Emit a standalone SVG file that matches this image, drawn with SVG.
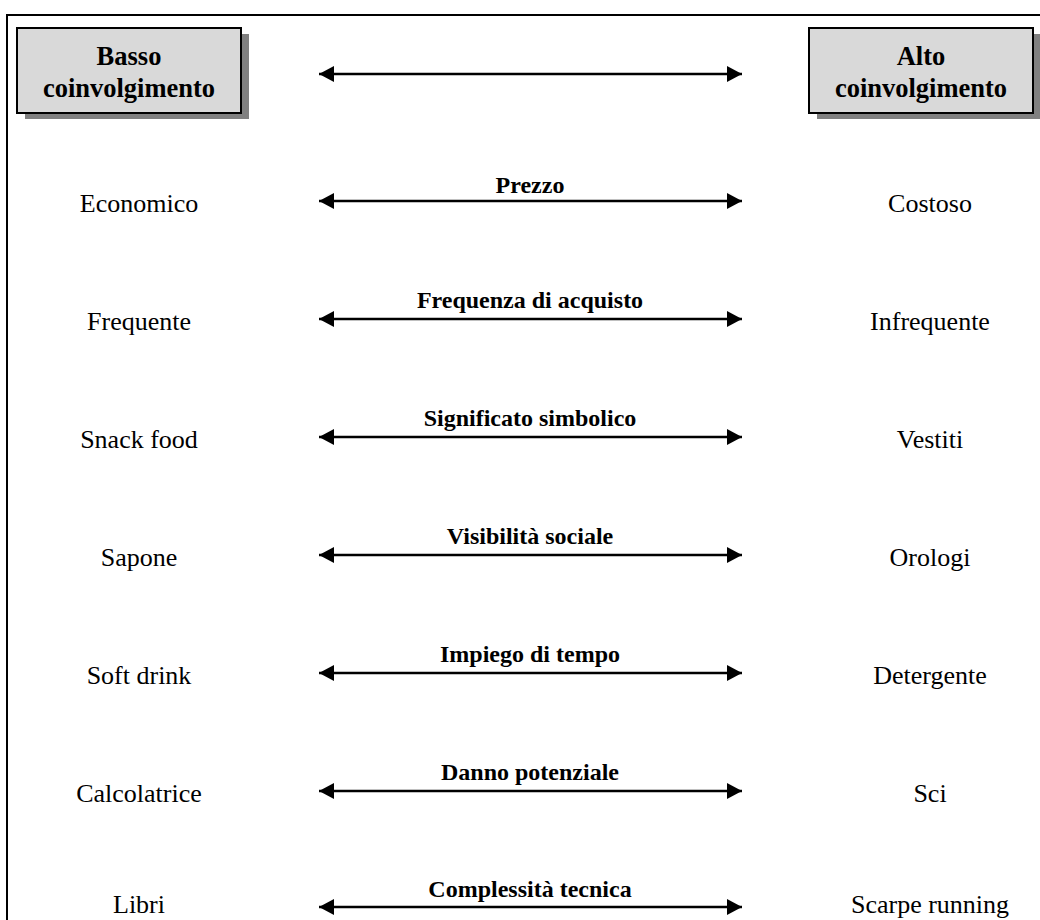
<svg xmlns="http://www.w3.org/2000/svg" width="1040" height="920" viewBox="0 0 1040 920">
  <style>
    .frame { fill: none; stroke: #000; stroke-width: 2; }
    .shadow { fill: #808080; }
    .box { fill: #d9d9d9; stroke: #000; stroke-width: 2; }
    .head { font-family: "Liberation Serif", "Times New Roman", serif; font-weight: bold; font-size: 26.5px; text-anchor: middle; fill: #000; }
    .side { font-family: "Liberation Serif", "Times New Roman", serif; font-size: 26px; text-anchor: middle; fill: #000; }
    .axis { font-family: "Liberation Serif", "Times New Roman", serif; font-weight: bold; font-size: 24px; text-anchor: middle; fill: #000; }
    .arrow { stroke: #000; stroke-width: 2.5; fill: none; marker-start: url(#head-l); marker-end: url(#head-r); }
  </style>
  <defs>
    <marker id="head-r" markerUnits="userSpaceOnUse" markerWidth="16" markerHeight="18" refX="15" refY="8" orient="auto" viewBox="0 0 16 16">
      <path d="M0,0 L15,8 L0,16 Z" fill="#000"/>
    </marker>
    <marker id="head-l" markerUnits="userSpaceOnUse" markerWidth="16" markerHeight="18" refX="0" refY="8" orient="auto" viewBox="0 0 16 16">
      <path d="M15,0 L0,8 L15,16 Z" fill="#000"/>
    </marker>
  </defs>

  <rect x="0" y="0" width="1040" height="920" fill="#fff"/>
  <!-- outer frame, runs past the right and bottom edges -->
  <rect class="frame" x="7" y="15" width="1050" height="930"/>

  <g id="basso">
    <rect class="shadow" x="25" y="34" width="224" height="85"/>
    <rect class="box" x="17" y="28" width="224" height="85"/>
    <text class="head" x="129" y="65">Basso</text>
    <text class="head" x="129" y="97">coinvolgimento</text>
  </g>

  <g id="alto">
    <rect class="shadow" x="817" y="34" width="224" height="85"/>
    <rect class="box" x="809" y="28" width="224" height="85"/>
    <text class="head" x="921" y="65">Alto</text>
    <text class="head" x="921" y="97">coinvolgimento</text>
  </g>

  <g id="connectors">
    <line class="arrow" x1="319" y1="74" x2="742" y2="74"/>
    <line class="arrow" x1="319" y1="201" x2="742" y2="201"/>
    <line class="arrow" x1="319" y1="319" x2="742" y2="319"/>
    <line class="arrow" x1="319" y1="437" x2="742" y2="437"/>
    <line class="arrow" x1="319" y1="555" x2="742" y2="555"/>
    <line class="arrow" x1="319" y1="673" x2="742" y2="673"/>
    <line class="arrow" x1="319" y1="791" x2="742" y2="791"/>
    <line class="arrow" x1="319" y1="907" x2="742" y2="907"/>
  </g>

  <g id="prezzo">
    <text class="axis" x="530" y="193">Prezzo</text>
    <text class="side" x="139" y="212">Economico</text>
    <text class="side" x="930" y="212">Costoso</text>
  </g>
  <g id="frequenza">
    <text class="axis" x="530" y="308">Frequenza di acquisto</text>
    <text class="side" x="139" y="330">Frequente</text>
    <text class="side" x="930" y="330">Infrequente</text>
  </g>
  <g id="significato">
    <text class="axis" x="530" y="426">Significato simbolico</text>
    <text class="side" x="139" y="448">Snack food</text>
    <text class="side" x="930" y="448">Vestiti</text>
  </g>
  <g id="visibilita">
    <text class="axis" x="530" y="544">Visibilità sociale</text>
    <text class="side" x="139" y="566">Sapone</text>
    <text class="side" x="930" y="566">Orologi</text>
  </g>
  <g id="impiego">
    <text class="axis" x="530" y="662">Impiego di tempo</text>
    <text class="side" x="139" y="684">Soft drink</text>
    <text class="side" x="930" y="684">Detergente</text>
  </g>
  <g id="danno">
    <text class="axis" x="530" y="780">Danno potenziale</text>
    <text class="side" x="139" y="802">Calcolatrice</text>
    <text class="side" x="930" y="802">Sci</text>
  </g>
  <g id="complessita">
    <text class="axis" x="530" y="897">Complessità tecnica</text>
    <text class="side" x="139" y="913">Libri</text>
    <text class="side" x="930" y="913">Scarpe running</text>
  </g>
</svg>
